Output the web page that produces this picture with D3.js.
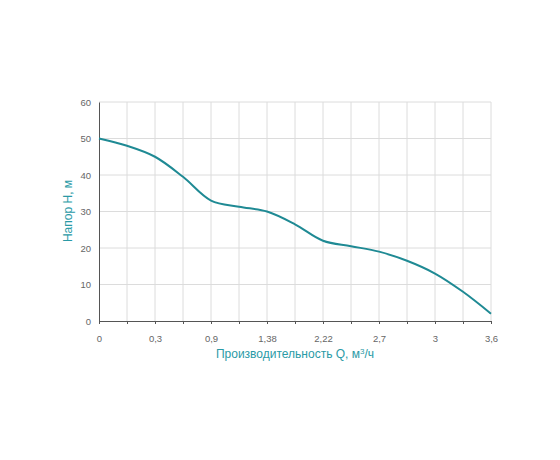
<!DOCTYPE html><html><head><meta charset="utf-8"><script src="https://cdn.jsdelivr.net/npm/d3@7"></script>
<style>body{margin:0;background:#fff}</style></head><body><svg id="c" width="560" height="460"></svg>
<script>
const tickLabels=["0","0,3","0,9","1,38","2,22","2,7","3","3,6"];
const steps=[0,1,2,3,4,5,6,7,8,9,10,11,12,13,14];
const head=[50,48,45,39.5,33,31.3,30,26.5,22,20.5,19,16.5,13,8,2];
const yTicks=[0,10,20,30,40,50,60];
const svg=d3.select("#c");
const x=d3.scaleLinear().domain([0,14]).range([99,491]);
const y=d3.scaleLinear().domain([0,60]).range([321,102]);
const g=svg.append("g");
g.selectAll(".vg").data(steps.slice(1)).join("line").attr("x1",d=>x(d)).attr("x2",d=>x(d)).attr("y1",102).attr("y2",321).attr("stroke","#dcdcdc");
g.selectAll(".hg").data(yTicks.slice(1)).join("line").attr("x1",99).attr("x2",491).attr("y1",d=>y(d)).attr("y2",d=>y(d)).attr("stroke","#dcdcdc");
const xa=svg.append("g").attr("transform","translate(0,321)").call(d3.axisBottom(x).tickValues(steps).tickSize(3).tickFormat(d=>d%2===0?tickLabels[d/2]:""));
xa.selectAll("text").attr("dy","1.6em");
const ya=svg.append("g").attr("transform","translate(99,0)").call(d3.axisLeft(y).tickValues(yTicks).tickSize(0).tickPadding(8));
[xa,ya].forEach(a=>{a.select(".domain").attr("stroke","#555");a.selectAll("line").attr("stroke","#555");a.selectAll("text").attr("fill","#666").attr("font-size",9.5).attr("font-family","Arial, Liberation Sans, sans-serif");});
svg.append("path").datum(steps).attr("fill","none").attr("stroke","#1f8a94").attr("stroke-width",2)
 .attr("d",d3.line().x(d=>x(d)).y(d=>y(head[d])).curve(d3.curveCatmullRom.alpha(0.5)));
svg.append("text").attr("x",295).attr("y",358).attr("text-anchor","middle").attr("fill","#2a9aa6").attr("font-size",12).attr("font-family","Arial, Liberation Sans, sans-serif").html("Производительность Q, м<tspan dy='-4' font-size='8'>3</tspan><tspan dy='4'>/ч</tspan>");
svg.append("text").attr("transform","translate(72,211) rotate(-90)").attr("text-anchor","middle").attr("fill","#2a9aa6").attr("font-size",12).attr("font-family","Arial, Liberation Sans, sans-serif").text("Напор H, м");
</script></body></html>
